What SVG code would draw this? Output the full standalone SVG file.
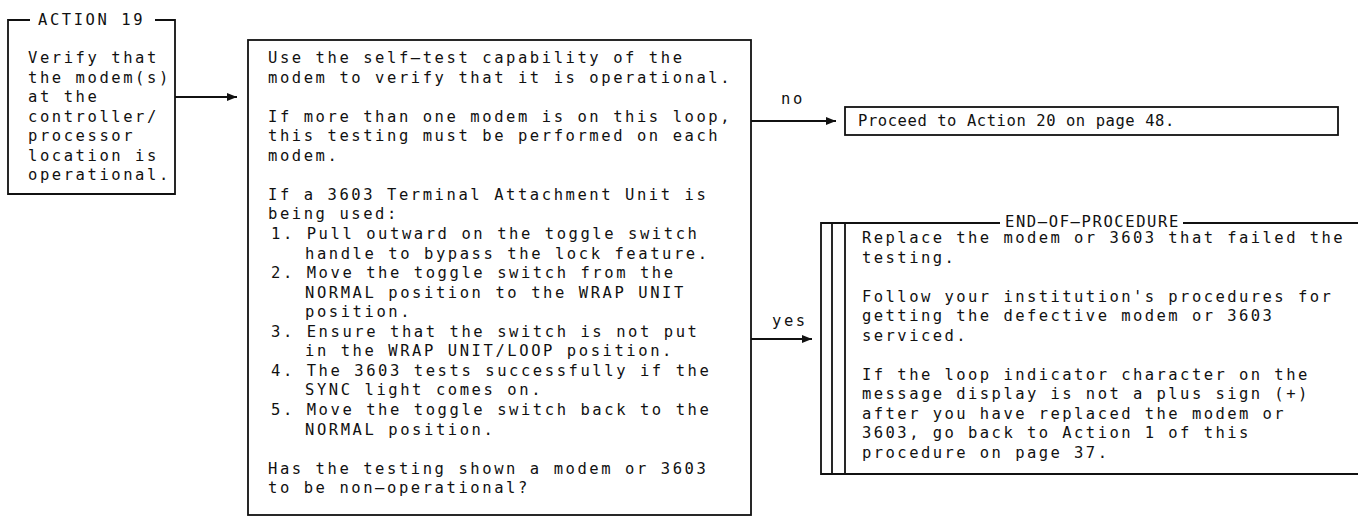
<svg xmlns="http://www.w3.org/2000/svg" width="1358" height="518" viewBox="0 0 1358 518">
<style>
.t{font-family:"DejaVu Sans Mono","Liberation Mono",monospace;font-size:15.5px;letter-spacing:2.57px;fill:#111}
.tp{letter-spacing:0.57px}
.te{letter-spacing:2.45px}
.ln{fill:none;stroke:#111;stroke-width:1.8}
.bx{fill:#fff;stroke:#111;stroke-width:1.8}
</style>
<defs>
<marker id="ah" markerWidth="10" markerHeight="8" refX="10" refY="4" orient="auto" markerUnits="userSpaceOnUse">
<path d="M0,0 L10,4 L0,8 Z" fill="#111"/>
</marker>
</defs>
<rect width="1358" height="518" fill="#fff"/>

<g id="action19">
<path class="ln" d="M30,20 H8 V194 H175 V20 H155"/>
<text class="t" x="38" y="25">ACTION 19</text>
<text class="t" x="28" y="63">Verify that</text>
<text class="t" x="28" y="82.5">the modem(s)</text>
<text class="t" x="28" y="102">at the</text>
<text class="t" x="28" y="121.5">controller/</text>
<text class="t" x="28" y="141">processor</text>
<text class="t" x="28" y="160.5">location is</text>
<text class="t" x="28" y="180">operational.</text>
</g>

<g id="selftest">
<rect class="bx" x="248" y="40" width="503" height="475"/>
<text class="t" x="268" y="63">Use the self–test capability of the</text>
<text class="t" x="268" y="82.5">modem to verify that it is operational.</text>
<text class="t" x="268" y="121.7">If more than one modem is on this loop,</text>
<text class="t" x="268" y="141.2">this testing must be performed on each</text>
<text class="t" x="268" y="160.8">modem.</text>
<text class="t" x="268" y="199.9">If a 3603 Terminal Attachment Unit is</text>
<text class="t" x="268" y="219.4">being used:</text>
<text class="t" x="271" y="239">1. Pull outward on the toggle switch</text>
<text class="t" x="305" y="258.5">handle to bypass the lock feature.</text>
<text class="t" x="271" y="278.1">2. Move the toggle switch from the</text>
<text class="t" x="305" y="297.6">NORMAL position to the WRAP UNIT</text>
<text class="t" x="305" y="317.2">position.</text>
<text class="t" x="271" y="336.7">3. Ensure that the switch is not put</text>
<text class="t" x="305" y="356.3">in the WRAP UNIT/LOOP position.</text>
<text class="t" x="271" y="375.8">4. The 3603 tests successfully if the</text>
<text class="t" x="305" y="395.4">SYNC light comes on.</text>
<text class="t" x="271" y="414.9">5. Move the toggle switch back to the</text>
<text class="t" x="305" y="434.5">NORMAL position.</text>
<text class="t" x="268" y="473.6">Has the testing shown a modem or 3603</text>
<text class="t" x="268" y="493.1">to be non–operational?</text>
</g>

<g id="proceed">
<rect class="bx" x="845" y="107" width="493" height="28"/>
<text class="t tp" x="858" y="126">Proceed to Action 20 on page 48.</text>
</g>

<g id="endproc">
<path class="ln" d="M1000,223 H821 V474 H1358 M1183,223 H1358 M832,223 V474 M845,223 V474"/>
<text class="t" x="1005" y="227" style="letter-spacing:1.6px">END–OF–PROCEDURE</text>
<text class="t te" x="862" y="243">Replace the modem or 3603 that failed the</text>
<text class="t te" x="862" y="262.5">testing.</text>
<text class="t te" x="862" y="301.6">Follow your institution's procedures for</text>
<text class="t te" x="862" y="321.1">getting the defective modem or 3603</text>
<text class="t te" x="862" y="340.7">serviced.</text>
<text class="t te" x="862" y="379.8">If the loop indicator character on the</text>
<text class="t te" x="862" y="399.3">message display is not a plus sign (+)</text>
<text class="t te" x="862" y="418.9">after you have replaced the modem or</text>
<text class="t te" x="862" y="438.4">3603, go back to Action 1 of this</text>
<text class="t te" x="862" y="458">procedure on page 37.</text>
</g>

<g id="connectors">
<line class="ln" x1="175" y1="97" x2="237" y2="97" marker-end="url(#ah)"/>
<line class="ln" x1="751" y1="121" x2="836" y2="121" marker-end="url(#ah)"/>
<text class="t" x="781" y="104">no</text>
<line class="ln" x1="751" y1="339" x2="812" y2="339" marker-end="url(#ah)"/>
<text class="t" x="772" y="326">yes</text>
</g>
</svg>
